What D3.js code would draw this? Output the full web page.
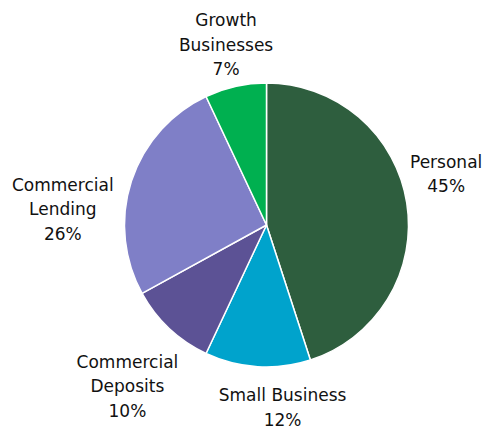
<!DOCTYPE html>
<html>
<head>
<meta charset="utf-8">
<script src="https://cdn.jsdelivr.net/npm/d3@7"></script>
<style>
  html, body { margin: 0; padding: 0; background: #fff; }
  svg { display: block; }
  text { font-family: "DejaVu Sans", Verdana, sans-serif; font-size: 17px; fill: #111; }
</style>
</head>
<body>
<svg id="chart" width="486" height="432"></svg>
<script>
// Share of total by business line, clockwise from 12 o'clock
const segments = ["Personal", "Small Business", "Commercial Deposits", "Commercial Lending", "Growth Businesses"];
const shares = [45, 12, 10, 26, 7];
// How each label breaks across lines
const labelLines = [
  ["Personal"],
  ["Small Business"],
  ["Commercial", "Deposits"],
  ["Commercial", "Lending"],
  ["Growth", "Businesses"]
];
const colors = ["#2e5e3e", "#00a3cc", "#5c5295", "#7f7fc7", "#00b050"];

const width = 486, height = 432;
const cx = 266.5, cy = 225, radius = 142;
const labelRadius = 190;
// nudges that keep each label clear of its neighbours
const labelNudge = [[-8, -21], [28, -7], [-9, 23], [-23, 43], [1, 5]];
const lineHeight = 24.5;

const svg = d3.select("#chart");
const g = svg.append("g").attr("transform", `translate(${cx},${cy})`);

const pie = d3.pie().sort(null).value(d => d.value);
const data = pie(segments.map((name, i) => ({ name, value: shares[i], lines: labelLines[i], color: colors[i] })));

const arc = d3.arc().innerRadius(0).outerRadius(radius);
const labelArc = d3.arc().innerRadius(labelRadius).outerRadius(labelRadius);

g.selectAll("path.slice")
  .data(data)
  .join("path")
  .attr("class", "slice")
  .attr("d", arc)
  .attr("fill", d => d.data.color)
  .attr("stroke", "#fff")
  .attr("stroke-width", 1.5)
  .attr("stroke-linejoin", "round");

const labels = g.selectAll("text.label")
  .data(data)
  .join("text")
  .attr("class", "label")
  .attr("text-anchor", "middle")
  .attr("transform", (d, i) => {
    const [x, y] = labelArc.centroid(d);
    return `translate(${x + labelNudge[i][0]},${y + labelNudge[i][1]})`;
  });

labels.each(function(d) {
  const lines = d.data.lines.concat([d.data.value + "%"]);
  const top = -((lines.length - 1) * lineHeight) / 2;
  d3.select(this).selectAll("tspan")
    .data(lines)
    .join("tspan")
    .attr("x", 0)
    .attr("y", (t, j) => top + j * lineHeight)
    .attr("dy", "0.35em")
    .text(t => t);
});
</script>
</body>
</html>
